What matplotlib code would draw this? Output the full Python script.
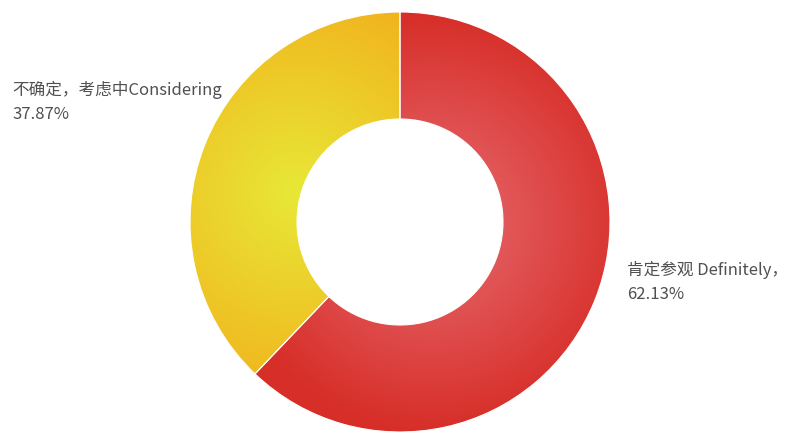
import numpy as np
import matplotlib
matplotlib.use("Agg")
import matplotlib.pyplot as plt
from matplotlib.colors import LinearSegmentedColormap

plt.rcParams['font.family'] = ['Noto Sans CJK SC', 'DejaVu Sans']

categories = ["肯定参观 Definitely，", "不确定，考虑中Considering"]
values = [62.13, 37.87]
inner_colors = ["#e76d73", "#e8e836"]
outer_colors = ["#d72e28", "#f1b31e"]

W, H = 792, 433
fig = plt.figure(figsize=(W / 100, H / 100), dpi=100)
ax = fig.add_axes([0, 0, 1, 1])

cx, cy = 400, H - 222
R = 210
wedges, _ = ax.pie(values, radius=R, center=(cx, cy), startangle=90, counterclock=False,
                   wedgeprops=dict(width=107, edgecolor='white', linewidth=0.8),
                   frame=True)
ax.set_xlim(0, W)
ax.set_ylim(0, H)
ax.set_aspect('equal')
ax.axis('off')

for w, ci, co in zip(wedges, inner_colors, outer_colors):
    verts = w.get_patch_transform().transform(w.get_path().vertices)
    x0, y0 = verts.min(axis=0)
    x1, y1 = verts.max(axis=0)
    x0 = max(x0, cx - R); x1 = min(x1, cx + R)
    y0 = max(y0, cy - R); y1 = min(y1, cy + R)
    gx, gy = (x0 + x1) / 2, (y0 + y1) / 2
    r = R
    xs = np.linspace(cx - R, cx + R, 500)
    ys = np.linspace(cy - R, cy + R, 500)
    X, Y = np.meshgrid(xs, ys)
    D = np.clip(np.hypot(X - gx, Y - gy) / r, 0, 1)
    cmap = LinearSegmentedColormap.from_list('g', [ci, co])
    im = ax.imshow(D, cmap=cmap, vmin=0, vmax=1, origin='lower',
                   extent=(cx - R, cx + R, cy - R, cy + R), zorder=1, interpolation='bilinear')
    im.set_clip_path(w)
    w.set_facecolor('none')
    w.set_zorder(2)

label_pos = [(627, H - 261), (12, H - 81)]
for cat, v, (tx, ty) in zip(categories, values, label_pos):
    ax.text(tx, ty, f"{cat}\n{v:.2f}%", ha='left', va='top', fontsize=12,
            color='#505050', linespacing=1.5, transform=ax.transData)

fig.savefig("out.png", dpi=100)
